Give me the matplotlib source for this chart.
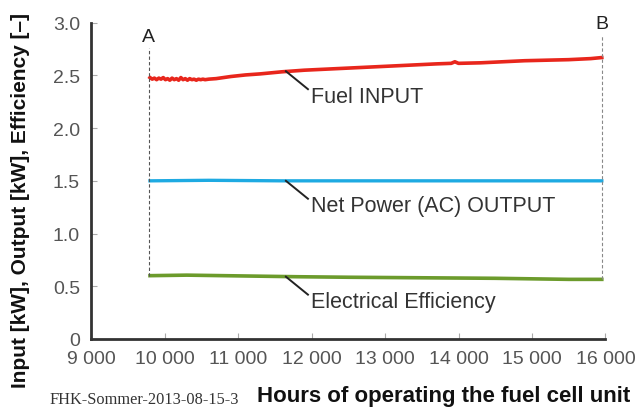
import matplotlib.pyplot as plt
import numpy as np

plt.rcParams['font.family'] = ['Liberation Sans', 'DejaVu Sans']

# hours of operation and readings
fuel_hours = [9800, 9830, 9860, 9890, 9920, 9950, 9980, 10010, 10040, 10070, 10100,
              10130, 10160, 10190, 10220, 10250, 10280, 10310, 10340, 10370, 10400,
              10430, 10460, 10490, 10520, 10550, 10600, 10700, 10900, 11100, 11300,
              11600, 11900, 12200, 12500, 12800, 13100, 13400, 13700, 13900, 13950,
              14000, 14300, 14600, 14900, 15200, 15500, 15800, 15950]
fuel_kw = [2.48, 2.465, 2.475, 2.46, 2.475, 2.465, 2.48, 2.46, 2.47, 2.455, 2.475,
           2.46, 2.47, 2.455, 2.48, 2.46, 2.47, 2.455, 2.47, 2.46, 2.465,
           2.455, 2.465, 2.46, 2.465, 2.46, 2.465, 2.47, 2.49, 2.505, 2.515,
           2.535, 2.55, 2.56, 2.57, 2.58, 2.59, 2.60, 2.61, 2.615, 2.63,
           2.615, 2.62, 2.63, 2.64, 2.645, 2.65, 2.66, 2.67]

net_hours = [9800, 10600, 11600, 12500, 13500, 14500, 15500, 15950]
net_kw = [1.50, 1.505, 1.50, 1.50, 1.50, 1.50, 1.50, 1.50]

eff_hours = [9800, 10300, 10800, 11300, 11800, 12500, 13500, 14500, 15500, 15950]
eff = [0.60, 0.605, 0.60, 0.595, 0.59, 0.585, 0.58, 0.575, 0.565, 0.565]

point_a = 9780
point_b = 15950

fig = plt.figure(figsize=(6.38, 4.10), dpi=100)
ax = fig.add_axes([0.143, 0.171, 0.806, 0.771])

ax.plot(fuel_hours, fuel_kw, color='#e8261c', lw=2.6)
ax.plot(net_hours, net_kw, color='#1eaae2', lw=2.4)
ax.plot(eff_hours, eff, color='#6c9b2c', lw=2.6)

# A / B markers
ax.plot([point_a, point_a], [0.6, 2.76], color='#555555', lw=0.8, ls=(0, (3, 2)))
ax.plot([point_b, point_b], [0.565, 2.88], color='#888888', lw=0.8, ls=(0, (3, 2)))
ax.text(point_a, 2.79, 'A', ha='center', va='bottom', fontsize=14, color='#222222')
ax.text(point_b, 2.91, 'B', ha='center', va='bottom', fontsize=14, color='#222222')

# leader lines and labels
labels = ['Fuel INPUT', 'Net Power (AC) OUTPUT', 'Electrical Efficiency']
anchors = [2.54, 1.50, 0.59]
for lab, yv in zip(labels, anchors):
    ax.plot([11650, 11950], [yv, yv - 0.17], color='#222222', lw=1.4)
    ax.text(11990, yv - 0.235, lab, ha='left', va='center', fontsize=15.5, color='#333333')

ax.set_xlim(9000, 16000)
ax.set_ylim(0, 3.0)
ax.set_xticks(range(9000, 16001, 1000))
ax.set_xticklabels(['9 000', '10 000', '11 000', '12 000', '13 000', '14 000', '15 000', '16 000'])
ax.set_yticks([0, 0.5, 1.0, 1.5, 2.0, 2.5, 3.0])
ax.set_yticklabels(['0', '0.5', '1.0', '1.5', '2.0', '2.5', '3.0'])
ax.tick_params(direction='in', length=4, width=0.8, color='#aaaaaa',
               labelsize=14, labelcolor='#555555', pad=8)
for s in ['top', 'right']:
    ax.spines[s].set_visible(False)
for s in ['left', 'bottom']:
    ax.spines[s].set_linewidth(2)
    ax.spines[s].set_color('#333333')

fig.text(0.032, 0.51, 'Input [kW], Output [kW], Efficiency [\u2013]', rotation=90,
         ha='center', va='center', fontsize=15, fontweight='bold', color='#111111')
fig.text(0.403, 0.032, 'Hours of operating the fuel cell unit', ha='left', va='center',
         fontsize=16, fontweight='bold', color='#111111')
fig.text(0.077, 0.025, 'FHK-Sommer-2013-08-15-3', ha='left', va='center',
         fontsize=11.8, family='Liberation Serif', color='#333333')

fig.savefig('out.png', dpi=100)
